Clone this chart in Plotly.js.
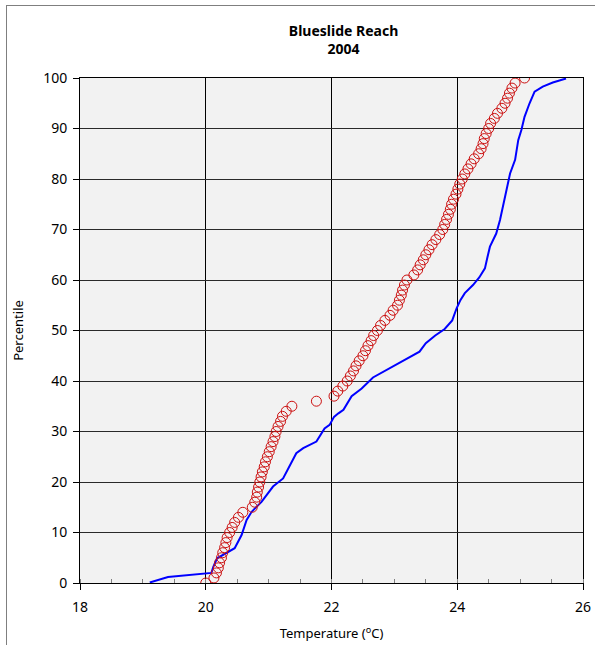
<!DOCTYPE html>
<html>
<head>
<meta charset="utf-8">
<script src="https://cdn.plot.ly/plotly-3.0.1.min.js"></script>
<style>
  html, body { margin: 0; padding: 0; background: #ffffff; }
  #frame { position: absolute; left: 6px; top: 5px; width: 595px; height: 645px; border-left: 1px solid #7f7f7f; border-top: 1px solid #7f7f7f; box-sizing: border-box; pointer-events: none; }
  #chart { position: absolute; left: 0; top: 0; width: 595px; height: 645px; }
</style>
</head>
<body>
<div id="chart"></div>
<div id="frame"></div>
<script>
// Observed temperatures (red circles), one per percentile 0..100
const observedPercentile = [];
for (let i = 0; i <= 100; i++) observedPercentile.push(i);
const observedTemp = [
  20.00, 20.13, 20.17, 20.20, 20.22, 20.25, 20.27, 20.30, 20.32, 20.34,
  20.38, 20.42, 20.46, 20.52, 20.59, 20.74, 20.78, 20.81, 20.82, 20.84,
  20.86, 20.88, 20.90, 20.93, 20.95, 20.98, 21.01, 21.04, 21.07, 21.10,
  21.12, 21.15, 21.19, 21.22, 21.28, 21.37, 21.76, 22.04, 22.10, 22.18,
  22.25, 22.30, 22.35, 22.39, 22.44, 22.50, 22.54, 22.58, 22.63, 22.67,
  22.73, 22.78, 22.85, 22.93, 22.98, 23.05, 23.08, 23.11, 23.13, 23.16,
  23.20, 23.31, 23.37, 23.41, 23.46, 23.50, 23.55, 23.60, 23.66, 23.72,
  23.77, 23.80, 23.83, 23.86, 23.89, 23.91, 23.94, 23.98, 24.01, 24.04,
  24.08, 24.12, 24.17, 24.22, 24.27, 24.34, 24.38, 24.41, 24.43, 24.46,
  24.50, 24.53, 24.59, 24.64, 24.71, 24.76, 24.80, 24.83, 24.87, 24.92,
  25.07
];

// Modelled temperatures (blue line)
const modelTemp = [
  19.11, 19.40, 20.09, 20.12, 20.18, 20.31, 20.46, 20.57, 20.65, 20.73,
  20.89, 21.07, 21.13, 21.23, 21.44, 21.55, 21.76, 21.89, 21.97, 22.04,
  22.11, 22.19, 22.32, 22.48, 22.66, 22.96, 23.25, 23.40, 23.50, 23.65,
  23.80, 23.92, 23.99, 24.05, 24.12, 24.25, 24.35, 24.44, 24.48, 24.52,
  24.62, 24.68, 24.76, 24.84, 24.92, 24.97, 25.02, 25.07, 25.15, 25.23,
  25.36, 25.52, 25.73
];
const modelPercentile = [
  0.1, 1.2, 2.0, 3.2, 4.9, 5.9, 6.9, 9.5, 12.5, 14.1,
  16.1, 19.1, 19.7, 20.7, 25.7, 26.7, 28.0, 30.6, 31.3, 32.9,
  33.6, 34.3, 37.0, 38.5, 40.7, 42.8, 44.7, 45.8, 47.5, 49.0,
  50.3, 52.0, 54.4, 56.0, 57.4, 59.0, 60.5, 62.3, 64.5, 66.6,
  69.2, 71.9, 76.5, 81.1, 83.8, 87.7, 89.7, 92.3, 95.0, 97.3,
  98.3, 99.1, 99.9
];

const xTicks = [18, 20, 22, 24, 26];
const yTicks = [0, 10, 20, 30, 40, 50, 60, 70, 80, 90, 100];

const traces = [
  {
    x: modelTemp, y: modelPercentile, type: 'scatter', mode: 'lines',
    line: { color: '#0000ff', width: 2 }, hoverinfo: 'skip', showlegend: false
  },
  {
    x: observedTemp, y: observedPercentile, type: 'scatter', mode: 'markers',
    marker: { symbol: 'circle-open', size: 10, color: '#cc1010', line: { width: 1, color: '#cc1010' } },
    hoverinfo: 'skip', showlegend: false
  }
];

const font = "Noto Sans, Open Sans, Liberation Sans, sans-serif";

const layout = {
  width: 595, height: 645,
  margin: { l: 80, r: 12, t: 78, b: 62 },
  paper_bgcolor: '#ffffff',
  plot_bgcolor: '#f2f2f2',
  font: { family: font, size: 13, color: '#000000' },
  title: {
    text: '<b>Blueslide Reach<br>2004</b>',
    font: { family: font, size: 14, color: '#000000' },
    x: 0.524, xanchor: 'center', xref: 'paper',
    y: 0.944, yanchor: 'top', yref: 'container'
  },
  xaxis: {
    range: [18, 26], tickmode: 'array', tickvals: xTicks, ticktext: xTicks.map(String),
    showgrid: true, gridcolor: '#000000', gridwidth: 1,
    ticks: 'outside', ticklen: 6, tickcolor: '#000000', tickwidth: 1,
    ticklabelstandoff: 5,
    minor: { dtick: 0.5, ticks: 'inside', ticklen: 4, tickcolor: '#808080', showgrid: false },
    showline: true, linecolor: '#000000', linewidth: 1, mirror: true,
    zeroline: false,
    tickfont: { family: font, size: 14, color: '#000000' },
    title: { text: 'Temperature (<sup>o</sup>C)', font: { family: font, size: 13, color: '#000000' }, standoff: 14 }
  },
  yaxis: {
    range: [0, 100], tickmode: 'array', tickvals: yTicks, ticktext: yTicks.map(String),
    showgrid: true, gridcolor: '#2a2a2a', gridwidth: 1,
    ticks: 'outside', ticklen: 6, tickcolor: '#000000', tickwidth: 1,
    ticklabelstandoff: 3,
    showline: true, linecolor: '#000000', linewidth: 1, mirror: true,
    zeroline: false,
    tickfont: { family: font, size: 14, color: '#000000' },
    title: { text: 'Percentile', font: { family: font, size: 13, color: '#000000' }, standoff: 16 }
  }
};

Plotly.newPlot('chart', traces, layout, { staticPlot: true, displayModeBar: false });
</script>
</body>
</html>
